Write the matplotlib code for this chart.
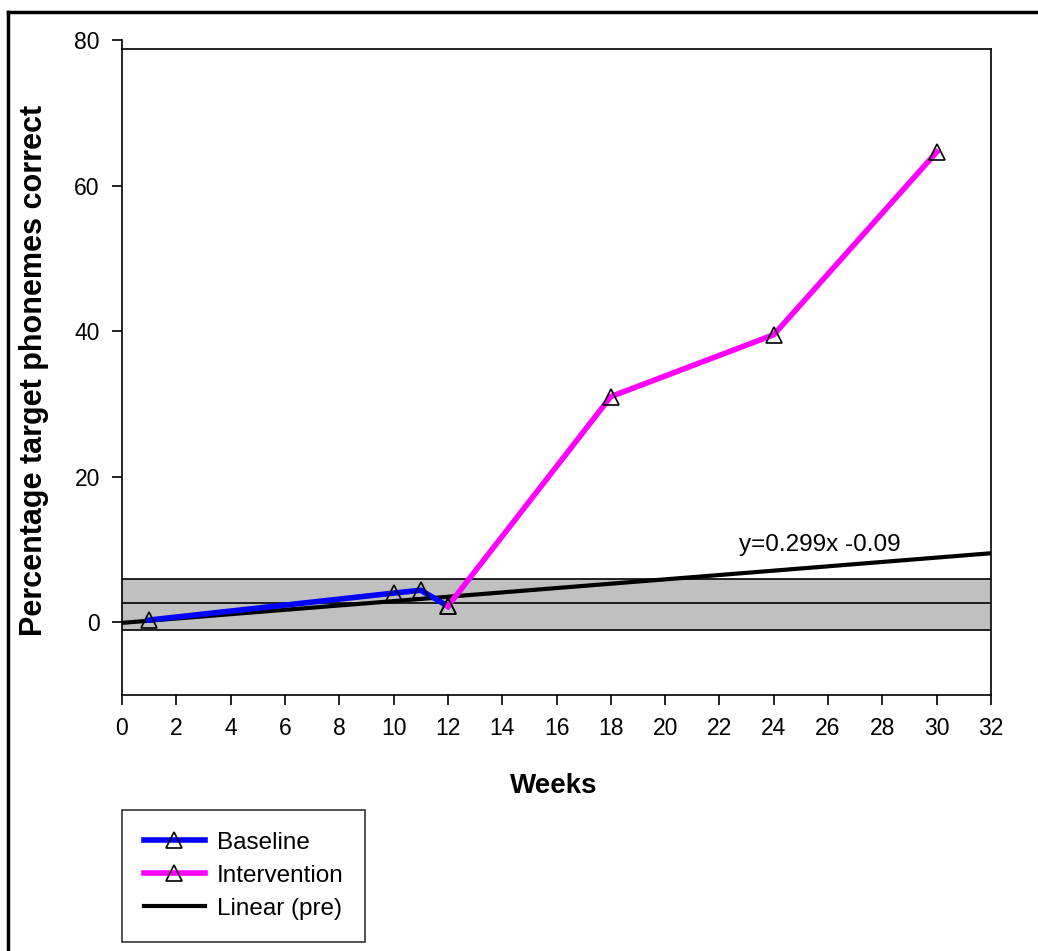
import numpy as np
import matplotlib
matplotlib.use("Agg")
import matplotlib.pyplot as plt
from matplotlib.lines import Line2D

plt.rcParams['font.family'] = ['Liberation Sans', 'DejaVu Sans']

# phase data (weeks, % target phonemes correct)
baseline_weeks = [1, 10, 11, 12]
baseline_pct = [0.3, 4.0, 4.4, 2.2]
intervention_weeks = [12, 18, 24, 30]
intervention_pct = [2.2, 31.0, 39.5, 64.6]

# linear trend fitted on the pre-intervention points
trend_slope = 0.299
trend_intercept = -0.09
trend_range = [0, 32]

# baseline mean with band
band_low = -1.1
band_high = 6.0
band_mean = 2.6

x_ticks = list(range(0, 33, 2))
y_ticks = [0, 20, 40, 60, 80]

W, H = 1038, 951
fig = plt.figure(figsize=(W / 100, H / 100), dpi=100)
ax = fig.add_axes([122 / W, 1 - 695 / H, (991 - 122) / W, (695 - 40) / H])
ax.set_xlim(0, 32)
ax.set_ylim(-10, 80)

# grey band around the baseline mean
ax.axhspan(band_low, band_high, facecolor='#c0c0c0', edgecolor='none', zorder=1)
for yv in (band_low, band_mean, band_high):
    ax.axhline(yv, color='black', lw=1.2, zorder=2)

tx = np.array(trend_range, dtype=float)
ax.plot(tx, trend_slope * tx + trend_intercept, color='black', lw=3, zorder=3,
        solid_capstyle='butt', label='Linear (pre)')

ax.plot(baseline_weeks, baseline_pct, color='#0000ff', lw=4, marker='^', ms=12,
        mfc='none', mec='black', mew=1.2, zorder=4, label='Baseline')
ax.plot(intervention_weeks, intervention_pct, color='#ff00ff', lw=4, marker='^', ms=12,
        mfc='none', mec='black', mew=1.2, zorder=5, label='Intervention')

ax.text(25.7, 10.6, 'y=0.299x -0.09', fontsize=17.5, ha='center', va='center')

ax.set_xticks(x_ticks)
ax.set_yticks(y_ticks)
ax.tick_params(direction='out', length=7, width=1.2, labelsize=16.5, pad=9)

# plot area frame: top edge sits a little below the 80 tick
top_edge = 78.8
ax.spines['top'].set_position(('data', top_edge))
ax.spines['right'].set_bounds(-10, top_edge)
for s in ax.spines.values():
    s.set_linewidth(1.2)
    s.set_color('black')

fig.text(34 / W, 1 - 370 / H, 'Percentage target phonemes correct', rotation=90,
         ha='center', va='center', fontsize=22, fontweight='bold')
fig.text(554 / W, 1 - 786 / H, 'Weeks', ha='center', va='center',
         fontsize=20, fontweight='bold')

handles = [
    Line2D([], [], color='#0000ff', lw=4, marker='^', ms=12, mfc='none', mec='black', mew=1.2),
    Line2D([], [], color='#ff00ff', lw=4, marker='^', ms=12, mfc='none', mec='black', mew=1.2),
    Line2D([], [], color='black', lw=3),
]
leg = fig.legend(handles, ['Baseline', 'Intervention', 'Linear (pre)'],
                 loc='upper left', bbox_to_anchor=(122 / W, 1 - 810 / H),
                 frameon=True, fancybox=False, edgecolor='black', fontsize=17.5,
                 handlelength=2.5, handletextpad=0.5, labelspacing=0.45,
                 borderpad=0.9, borderaxespad=0, numpoints=1)
leg.get_frame().set_linewidth(1.2)

# outer chart border (left and top edges)
fig.add_artist(Line2D([8 / W, 8 / W], [0, 1 - 12 / H], color='black', lw=2.5,
                      transform=fig.transFigure))
fig.add_artist(Line2D([8 / W, 1], [1 - 12 / H, 1 - 12 / H], color='black', lw=2.5,
                      transform=fig.transFigure))

fig.savefig('out.png', dpi=100, facecolor='white')
